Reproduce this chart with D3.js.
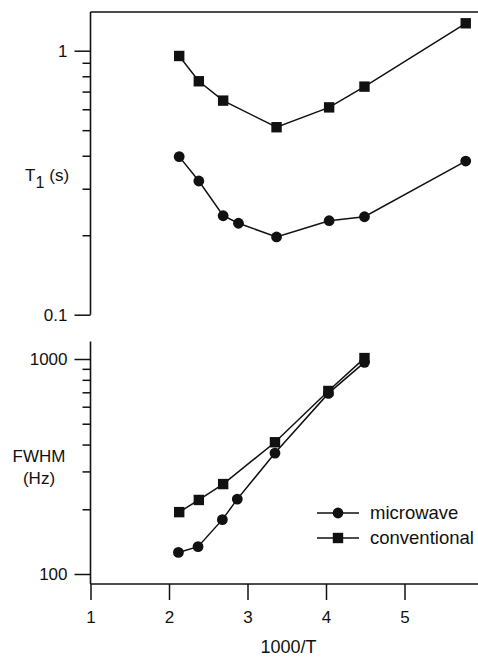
<!DOCTYPE html>
<html><head><meta charset="utf-8">
<script src="https://cdn.jsdelivr.net/npm/d3@7"></script>
<style>
body{margin:0;background:#fff;}
svg{display:block;font-family:"Liberation Sans",Arial,Helvetica,sans-serif;}
</style></head>
<body>
<svg id="c" width="478" height="658"></svg>
<script>
// ---- data ----
const xTicks = [1, 2, 3, 4, 5];
const t1Ticks = [0.1, 1];
const fwhmTicks = [100, 1000];

const t1ConvX = [2.13, 2.38, 2.69, 3.37, 4.04, 4.49, 5.78];
const t1ConvY = [0.955, 0.766, 0.647, 0.513, 0.610, 0.731, 1.27];
const t1MicX = [2.13, 2.38, 2.69, 2.885, 3.37, 4.04, 4.49, 5.78];
const t1MicY = [0.397, 0.321, 0.237, 0.222, 0.197, 0.227, 0.235, 0.382];

const fwConvX = [2.13, 2.38, 2.69, 3.35, 4.03, 4.49];
const fwConvY = [194, 221, 262, 410, 710, 1010];
const fwMicX = [2.12, 2.37, 2.68, 2.87, 3.35, 4.03, 4.49];
const fwMicY = [126, 134, 179, 223, 365, 692, 965];

const legendLabels = ["microwave", "conventional"];

// ---- layout ----
const svg = d3.select("#c");
const xLeft = 90.5;
const x = d3.scaleLinear().domain([1, 6]).range([xLeft, xLeft + 5 * 78.5]);
const yT = d3.scaleLog().domain([0.1, 1]).range([314.7, 50.7]);
const yF = d3.scaleLog().domain([100, 1000]).range([574, 359]);

const stroke = "#111";
const FONT = "'Liberation Sans',Arial,sans-serif";
function minorVals(lo, hi) {
  const v = [];
  for (let d = lo; d < hi; d *= 10) for (let k = 2; k <= 9; k++) v.push(d * k);
  return v;
}

function yAxis(scale, majors, lo, hi) {
  const g = svg.append("g").attr("transform", `translate(${xLeft},0)`);
  g.call(d3.axisLeft(scale).tickValues(majors).tickSize(16).tickPadding(7)
      .tickFormat(d3.format("")));
  g.append("g").call(d3.axisLeft(scale).tickValues(minorVals(lo, hi)).tickSize(8).tickFormat(""));
  g.selectAll(".domain").remove();
  g.selectAll("line").attr("stroke", stroke).attr("stroke-width", 1.5);
  g.selectAll("text").attr("font-size", 17).attr("fill", stroke).attr("font-family", FONT);
  return g;
}

// top panel frame
svg.append("line").attr("x1", xLeft).attr("x2", 478).attr("y1", 12).attr("y2", 12)
  .attr("stroke", stroke).attr("stroke-width", 1.6);
svg.append("line").attr("x1", xLeft).attr("x2", xLeft).attr("y1", 12).attr("y2", yT(0.1))
  .attr("stroke", stroke).attr("stroke-width", 1.6);
yAxis(yT, t1Ticks, 0.1, 1);

// bottom panel frame
const yAxisF = 584;
svg.append("line").attr("x1", xLeft).attr("x2", xLeft).attr("y1", 341.5).attr("y2", yAxisF)
  .attr("stroke", stroke).attr("stroke-width", 1.6);
yAxis(yF, fwhmTicks, 100, 1000);

const gx = svg.append("g").attr("transform", `translate(0,${yAxisF})`);
gx.call(d3.axisBottom(x).tickValues(xTicks).tickSize(16).tickPadding(11).tickFormat(d3.format("d")));
gx.select(".domain").remove();
gx.selectAll("line").attr("stroke", stroke).attr("stroke-width", 1.5);
gx.selectAll("text").attr("font-size", 17).attr("fill", stroke).attr("font-family", FONT);
svg.append("line").attr("x1", xLeft).attr("x2", 478).attr("y1", yAxisF).attr("y2", yAxisF)
  .attr("stroke", stroke).attr("stroke-width", 1.6);

// series drawing
function series(xs, ys, yScale, shape) {
  const pts = xs.map((v, i) => [x(v), yScale(ys[i])]);
  svg.append("path").attr("d", d3.line()(pts)).attr("fill", "none")
    .attr("stroke", stroke).attr("stroke-width", 1.5);
  pts.forEach(p => marker(p[0], p[1], shape));
}
function marker(cx, cy, shape) {
  if (shape === "circle") {
    svg.append("circle").attr("cx", cx).attr("cy", cy).attr("r", 5.4).attr("fill", stroke);
  } else {
    svg.append("rect").attr("x", cx - 5.2).attr("y", cy - 5.2).attr("width", 10.4).attr("height", 10.4)
      .attr("fill", stroke);
  }
}
series(t1ConvX, t1ConvY, yT, "square");
series(t1MicX, t1MicY, yT, "circle");
series(fwConvX, fwConvY, yF, "square");
series(fwMicX, fwMicY, yF, "circle");

// axis titles
const t1 = svg.append("text").attr("x", 25).attr("y", 181).attr("font-size", 17).attr("fill", stroke);
t1.append("tspan").text("T");
t1.append("tspan").attr("dy", 7).attr("font-size", 16).text("1");
t1.append("tspan").attr("dy", -7).attr("dx", 5).text("(s)");

svg.append("text").attr("x", 39).attr("y", 462).attr("text-anchor", "middle")
  .attr("font-size", 17).attr("fill", stroke).text("FWHM");
svg.append("text").attr("x", 39).attr("y", 484).attr("text-anchor", "middle")
  .attr("font-size", 17).attr("fill", stroke).text("(Hz)");

svg.append("text").attr("x", 288.5).attr("y", 653).attr("text-anchor", "middle")
  .attr("font-size", 18).attr("fill", stroke).text("1000/T");

// legend
const legShapes = ["circle", "square"];
const legY = [513, 538];
legendLabels.forEach((lab, i) => {
  svg.append("line").attr("x1", 317).attr("x2", 359).attr("y1", legY[i]).attr("y2", legY[i])
    .attr("stroke", stroke).attr("stroke-width", 1.5);
  marker(338, legY[i], legShapes[i]);
  svg.append("text").attr("x", 370).attr("y", legY[i]).attr("dy", "0.33em")
    .attr("font-size", 18.5).attr("fill", stroke).text(lab);
});
</script>
</body></html>
